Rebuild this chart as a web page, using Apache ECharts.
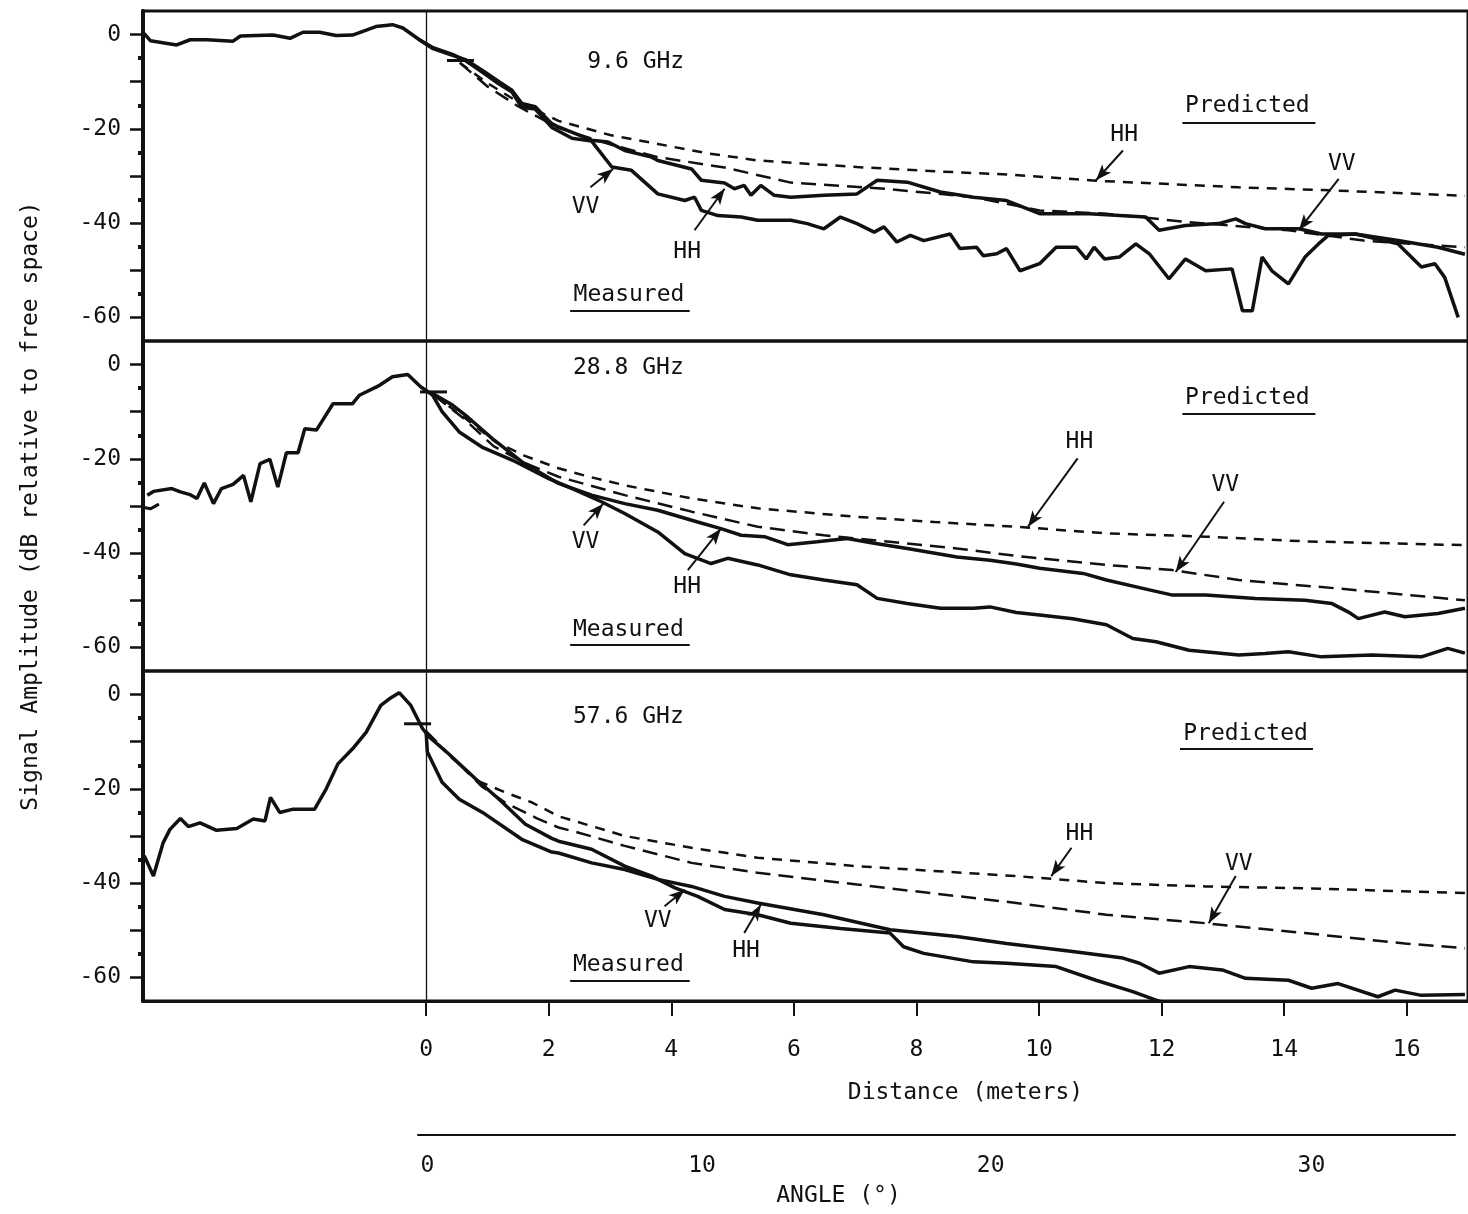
<!DOCTYPE html>
<html><head><meta charset="utf-8">
<script src="https://cdn.jsdelivr.net/npm/echarts@6/dist/echarts.min.js"></script>
<style>html,body{margin:0;padding:0;background:#fff}#c{width:1468px;height:1214px}</style>
</head><body><div id="c"></div>
<script>
// ---------- tick labels / categories ----------
const distTicks = [0, 2, 4, 6, 8, 10, 12, 14, 16];
const dbLabelTicks = [0, -20, -40, -60];
const dbMajorTicks = [0, -10, -20, -30, -40, -50, -60];
const dbMinorTicks = [-5, -15, -25, -35, -45, -55];
const angleTickLabels = ['0', '10', '20', '30'];
const angleTickDistances = [0, 4.46, 9.15, 14.36];
const panelTitles = ['9.6 GHz', '28.8 GHz', '57.6 GHz'];

// ---------- 9.6 GHz ----------
const p1MeasuredVV = [[-4.6,0.2],[-4.5,-1.3],[-4.07,-2.2],[-3.85,-1.1],[-3.58,-1.1],[-3.15,-1.4],[-3.03,-0.3],[-2.5,-0.1],[-2.22,-0.8],[-2.01,0.5],[-1.74,0.5],[-1.47,-0.2],[-1.2,-0.1],[-0.82,1.7],[-0.55,2.1],[-0.38,1.4],[-0.11,-1.1],[0.1,-2.7],[0.43,-4.2],[0.64,-5.5],[0.92,-8.0],[1.19,-10.5],[1.4,-12.2],[1.56,-15.4],[1.78,-15.8],[2.05,-19.7],[2.38,-22.0],[2.7,-22.6],[3.03,-28.1],[3.35,-28.8],[3.78,-33.8],[4.22,-35.2],[4.38,-34.5],[4.49,-37.3],[4.76,-38.4],[5.14,-38.7],[5.41,-39.4],[5.95,-39.4],[6.22,-40.1],[6.49,-41.2],[6.76,-38.7],[7.03,-40.1],[7.31,-41.9],[7.47,-40.8],[7.68,-44.0],[7.9,-42.6],[8.12,-43.7],[8.55,-42.3],[8.71,-45.4],[8.98,-45.1],[9.09,-46.9],[9.31,-46.5],[9.47,-45.4],[9.69,-50.1],[10.01,-48.6],[10.28,-45.1],[10.61,-45.1],[10.77,-47.6],[10.9,-45.1],[11.07,-47.6],[11.31,-47.2],[11.58,-44.4],[11.8,-46.5],[12.12,-51.8],[12.39,-47.6],[12.72,-50.1],[13.15,-49.7],[13.32,-58.6],[13.48,-58.6],[13.64,-47.2],[13.8,-50.1],[14.07,-52.9],[14.34,-47.2],[14.56,-44.4],[14.72,-42.6],[15.16,-42.3],[15.86,-44.4],[16.24,-49.3],[16.46,-48.6],[16.62,-51.5],[16.84,-60.0]];
const p1MeasuredHH = [[-0.11,-1.1],[0.1,-2.9],[0.43,-4.4],[0.64,-5.3],[0.92,-7.6],[1.19,-10.0],[1.4,-11.8],[1.56,-14.6],[1.78,-15.3],[2.05,-18.9],[2.16,-19.6],[2.7,-22.4],[2.97,-22.8],[3.24,-24.6],[3.68,-26.0],[3.78,-26.7],[4.33,-28.5],[4.49,-30.9],[4.87,-31.5],[5.03,-32.7],[5.19,-32.0],[5.3,-34.1],[5.46,-32.0],[5.68,-34.1],[5.95,-34.5],[6.49,-34.1],[7.03,-33.8],[7.36,-30.9],[7.85,-31.3],[8.39,-33.4],[8.93,-34.5],[9.47,-35.2],[10.01,-38.0],[10.82,-38.0],[11.74,-38.7],[11.96,-41.5],[12.39,-40.5],[12.93,-40.1],[13.21,-39.1],[13.37,-40.1],[13.69,-41.2],[14.24,-41.2],[14.61,-42.3],[15.16,-42.3],[15.86,-43.7],[16.51,-45.1],[16.95,-46.6]];
const p1PredictedHH = [[0.55,-6.0],[1.0,-10.3],[1.5,-14.3],[2.16,-18.3],[3.0,-21.3],[3.78,-23.2],[4.6,-25.2],[5.41,-26.7],[7.03,-28.1],[8.3,-29.0],[9.5,-29.7],[10.93,-31.0],[13.26,-32.4],[14.88,-33.1],[16.95,-34.2]];
const p1PredictedVV = [[0.55,-6.0],[1.0,-11.0],[1.5,-15.2],[2.16,-19.8],[3.0,-23.3],[3.78,-26.0],[4.87,-28.2],[5.95,-31.4],[7.57,-32.8],[8.93,-34.5],[10.01,-37.3],[11.1,-38.0],[12.45,-39.8],[14.07,-41.5],[15.3,-43.7],[16.95,-45.1]];

// ---------- 28.8 GHz ----------
const p2MeasuredVV = [[-4.55,-27.7],[-4.45,-26.9],[-4.15,-26.3],[-4.01,-27.0],[-3.85,-27.6],[-3.74,-28.4],[-3.62,-25.1],[-3.47,-29.5],[-3.34,-26.3],[-3.15,-25.4],[-2.98,-23.5],[-2.86,-29.1],[-2.71,-21.0],[-2.55,-20.1],[-2.42,-26.0],[-2.28,-18.7],[-2.09,-18.7],[-1.98,-13.6],[-1.79,-13.9],[-1.52,-8.3],[-1.2,-8.3],[-1.09,-6.5],[-0.76,-4.4],[-0.55,-2.6],[-0.3,-2.1],[-0.09,-4.7],[0.1,-6.4],[0.26,-10.0],[0.54,-14.3],[0.91,-17.5],[1.46,-20.6],[2.0,-24.2],[2.43,-26.6],[2.86,-29.1],[3.24,-31.6],[3.78,-35.5],[4.22,-40.1],[4.65,-42.2],[4.92,-41.1],[5.41,-42.5],[5.95,-44.6],[6.49,-45.7],[7.03,-46.7],[7.36,-49.6],[7.85,-50.7],[8.39,-51.7],[8.93,-51.7],[9.2,-51.4],[9.63,-52.6],[10.01,-53.1],[10.55,-53.9],[11.1,-55.2],[11.53,-58.1],[11.91,-58.8],[12.45,-60.6],[13.26,-61.6],[13.69,-61.3],[14.07,-60.9],[14.61,-62.0],[15.43,-61.6],[16.24,-62.0],[16.67,-60.2],[16.95,-61.2]];
const p2MeasuredHH = [[0.1,-6.1],[0.43,-8.6],[0.64,-10.7],[1.08,-15.7],[1.56,-20.6],[2.0,-24.0],[2.16,-25.2],[2.7,-27.7],[3.24,-29.5],[3.78,-30.9],[4.43,-33.4],[4.81,-34.8],[5.14,-36.2],[5.52,-36.5],[5.9,-38.2],[6.38,-37.6],[6.87,-36.9],[7.31,-37.9],[7.85,-39.0],[8.66,-40.8],[9.2,-41.5],[9.63,-42.3],[10.01,-43.2],[10.72,-44.3],[11.1,-45.7],[11.8,-47.8],[12.18,-48.9],[12.72,-48.9],[13.53,-49.6],[14.34,-50.0],[14.78,-50.7],[15.05,-52.5],[15.21,-53.9],[15.64,-52.5],[15.97,-53.5],[16.51,-52.8],[16.95,-51.7]];
const p2LeftStub = [[-4.6,-30.3],[-4.5,-30.6],[-4.36,-29.6]];
const p2PredictedHH = [[0.13,-6.5],[0.6,-11.0],[1.13,-16.4],[1.6,-19.3],[2.16,-22.0],[2.6,-23.6],[3.24,-25.6],[4.33,-28.4],[5.41,-30.5],[7.03,-32.3],[8.3,-33.4],[9.63,-34.4],[11.1,-35.8],[12.72,-36.5],[14.34,-37.5],[16.95,-38.3]];
const p2PredictedVV = [[0.13,-6.5],[0.6,-11.3],[1.1,-17.3],[1.6,-20.8],[2.16,-23.8],[3.24,-27.7],[4.33,-31.2],[5.41,-34.4],[6.49,-36.2],[7.57,-37.6],[8.66,-39.0],[9.63,-40.6],[11.1,-42.5],[12.18,-43.6],[13.26,-45.7],[14.88,-47.5],[16.95,-50.0]];

// ---------- 57.6 GHz ----------
const p3MeasuredVV = [[-4.6,-34.2],[-4.45,-38.5],[-4.29,-31.4],[-4.18,-28.6],[-4.01,-26.3],[-3.88,-28.0],[-3.69,-27.2],[-3.42,-28.8],[-3.09,-28.4],[-2.82,-26.4],[-2.63,-26.8],[-2.54,-21.8],[-2.39,-25.0],[-2.17,-24.3],[-1.82,-24.3],[-1.63,-20.0],[-1.44,-14.7],[-1.2,-11.5],[-0.98,-8.0],[-0.74,-2.3],[-0.6,-0.9],[-0.44,0.4],[-0.25,-2.3],[-0.06,-7.2],[0.05,-9.0],[0.37,-12.6],[0.81,-17.9],[1.19,-22.2],[1.62,-27.5],[2.05,-30.5],[2.16,-31.1],[2.7,-32.8],[3.24,-36.4],[3.68,-38.5],[4.06,-41.0],[4.43,-42.8],[4.87,-45.6],[5.41,-46.7],[5.95,-48.5],[6.76,-49.6],[7.57,-50.6],[7.79,-53.5],[8.12,-54.9],[8.93,-56.7],[9.47,-57.0],[10.28,-57.7],[10.93,-60.6],[11.53,-63.0],[11.91,-64.8],[12.2,-66.0]];
const p3MeasuredHH = [[0.0,-8.0],[0.02,-12.2],[0.26,-18.6],[0.54,-22.2],[0.92,-25.0],[1.56,-30.7],[2.05,-33.4],[2.16,-33.6],[2.7,-35.7],[3.24,-37.1],[3.78,-39.2],[4.33,-40.7],[4.87,-42.8],[5.41,-44.2],[6.49,-46.7],[7.57,-49.9],[8.66,-51.3],[9.47,-52.8],[10.55,-54.5],[11.37,-55.9],[11.64,-57.0],[11.96,-59.1],[12.45,-57.7],[12.99,-58.4],[13.37,-60.2],[14.07,-60.6],[14.45,-62.3],[14.88,-61.3],[15.53,-64.1],[15.81,-62.7],[16.24,-63.8],[16.95,-63.6]];
const p3PredictedHH = [[0.0,-7.8],[0.4,-13.2],[0.86,-18.4],[1.3,-20.8],[1.73,-22.9],[2.16,-25.8],[3.24,-30.0],[4.33,-32.5],[5.41,-34.6],[7.03,-36.4],[9.63,-38.5],[11.1,-40.0],[12.72,-40.7],[14.34,-41.1],[16.95,-42.1]];
const p3PredictedVV = [[0.0,-7.8],[0.4,-13.0],[0.91,-19.5],[1.3,-23.0],[1.8,-26.2],[2.16,-28.2],[2.49,-29.3],[3.24,-32.1],[4.33,-35.7],[5.41,-37.8],[7.03,-40.3],[9.63,-44.2],[11.1,-46.7],[12.72,-48.5],[14.34,-50.6],[15.97,-52.8],[16.95,-53.8]];

// short "+" reference marks near the origin of each panel
const originMarks = [[0.56,-5.5],[0.12,-5.8],[-0.14,-6.2]];

const panelData = [
  {mVV:p1MeasuredVV, mHH:p1MeasuredHH, pHH:p1PredictedHH, pVV:p1PredictedVV, stub:[]},
  {mVV:p2MeasuredVV, mHH:p2MeasuredHH, pHH:p2PredictedHH, pVV:p2PredictedVV, stub:p2LeftStub},
  {mVV:p3MeasuredVV, mHH:p3MeasuredHH, pHH:p3PredictedHH, pVV:p3PredictedVV, stub:[]}
];

// ---------- annotation placement (data coordinates) ----------
const annotations = [
  {texts:[[panelTitles[0],3.42,-5.8],['Predicted',13.4,-15.2],['HH',11.39,-21.4],['VV',14.94,-27.4],['VV',2.6,-36.6],['HH',4.26,-46.2],['Measured',3.31,-55.3]],
   arrows:[[11.37,-24.6,10.93,-30.9],[14.89,-30.6,14.24,-41.5],[2.68,-32.4,3.05,-28.5],[4.38,-41.5,4.87,-32.7]],
   underlines:[[12.34,14.51,-18.6],[2.35,4.3,-58.5]]},
  {texts:[[panelTitles[1],3.3,-0.7],['Predicted',13.4,-7.1],['HH',10.66,-16.5],['VV',13.04,-25.6],['VV',2.6,-37.6],['HH',4.26,-47.1],['Measured',3.3,-56.3]],
   arrows:[[10.63,-19.9,9.82,-34.4],[13.02,-29.1,12.23,-44.0],[2.57,-34.1,2.89,-29.5],[4.27,-43.6,4.81,-34.8]],
   underlines:[[12.34,14.51,-10.4],[2.35,4.3,-59.5]]},
  {texts:[[panelTitles[2],3.3,-4.8],['Predicted',13.37,-8.3],['HH',10.66,-29.6],['VV',13.26,-36.0],['VV',3.78,-48.1],['HH',5.22,-54.5],['Measured',3.3,-57.4]],
   arrows:[[10.53,-32.5,10.2,-38.5],[13.21,-38.5,12.77,-48.5],[3.89,-44.9,4.22,-41.4],[5.19,-50.6,5.46,-44.6]],
   underlines:[[12.3,14.47,-11.5],[2.35,4.3,-60.6]]}
];

// ---------- chart ----------
const FONT = 'DejaVu Sans Mono';
const INK = '#111';
const X_MIN = -4.62, X_MAX = 17.0, Y_MIN = -65, Y_MAX = 5;
const panelTops = [11, 341, 671];

const grids = panelTops.map(t => ({left:143, top:t, width:1331, height:330, show:true, borderColor:INK, borderWidth:3, backgroundColor:'transparent'}));
grids.push({left:418, top:1134, width:1037, height:1});

const txt = {fontFamily:FONT, fontSize:23, color:INK};

const xAxes = [0,1,2].map(i => {
  const base = {type:'value', gridIndex:i, min:X_MIN, max:X_MAX, splitLine:{show:false}};
  if (i < 2) return Object.assign(base, {show:false});
  return Object.assign(base, {
    position:'bottom',
    axisLine:{show:true, onZero:false, lineStyle:{color:INK, width:3}},
    axisTick:{show:true, customValues:distTicks, length:15, lineStyle:{color:INK, width:2}},
    axisLabel:Object.assign({customValues:distTicks, margin:38}, txt),
    name:'Distance (meters)', nameLocation:'middle', nameGap:81,
    nameTextStyle:Object.assign({padding:[0,0,0,320]}, txt)
  });
});
xAxes.push({
  type:'value', gridIndex:3, min:-0.153, max:16.692, splitLine:{show:false}, position:'bottom',
  axisLine:{show:true, onZero:false, lineStyle:{color:INK, width:2}},
  axisTick:{show:false},
  axisLabel:Object.assign({customValues:angleTickDistances, margin:20,
    formatter:v => {let b=0; angleTickDistances.forEach((d,k)=>{ if (Math.abs(d-v) < Math.abs(angleTickDistances[b]-v)) b=k; }); return angleTickLabels[b];}}, txt),
  name:'ANGLE (°)', nameLocation:'middle', nameGap:50,
  nameTextStyle:Object.assign({padding:[0,196,0,0]}, txt)
});

const yAxes = [];
[0,1,2].forEach(i => {
  yAxes.push({
    type:'value', gridIndex:i, min:Y_MIN, max:Y_MAX, interval:5, splitLine:{show:false},
    axisLine:{show:true, onZero:false, lineStyle:{color:INK, width:4}},
    axisTick:{show:true, customValues:dbMajorTicks, length:13, lineStyle:{color:INK, width:2.5}},
    axisLabel:Object.assign({customValues:dbLabelTicks, margin:22}, txt),
    name: i === 1 ? 'Signal Amplitude (dB relative to free space)' : '',
    nameLocation:'middle', nameRotate:90, nameGap:100, nameTextStyle:txt
  });
  yAxes.push({
    type:'value', gridIndex:i, min:Y_MIN, max:Y_MAX, interval:5, position:'left', splitLine:{show:false},
    axisLine:{show:false, onZero:false},
    axisTick:{show:true, customValues:dbMinorTicks, length:5, lineStyle:{color:INK, width:4}},
    axisLabel:{show:false}
  });
});
yAxes.push({type:'value', gridIndex:3, min:0, max:1, show:false});

const series = [];
panelData.forEach((p, i) => {
  const ax = {xAxisIndex:i, yAxisIndex:2*i};
  series.push(Object.assign({type:'line', name:'Measured VV', data:p.mVV, symbol:'none', lineStyle:{color:INK, width:3.5}, z:3}, ax));
  series.push(Object.assign({type:'line', name:'Measured HH', data:p.mHH, symbol:'none', lineStyle:{color:INK, width:3.5}, z:3,
    markLine:{silent:true, symbol:'none', label:{show:false}, lineStyle:{color:INK, width:1.3, type:'solid'}, emphasis:{disabled:true}, data:[{xAxis:0}]}}, ax));
  if (p.stub.length) series.push(Object.assign({type:'line', name:'Measured HH start', data:p.stub, symbol:'none', lineStyle:{color:INK, width:3}, z:3}, ax));
  series.push(Object.assign({type:'line', name:'Predicted HH', data:p.pHH, symbol:'none', lineStyle:{color:INK, width:2.5, type:[10,8]}, z:2}, ax));
  series.push(Object.assign({type:'line', name:'Predicted VV', data:p.pVV, symbol:'none', lineStyle:{color:INK, width:2.5, type:[15,8]}, z:2}, ax));
  series.push(Object.assign({type:'scatter', name:'origin mark', data:[originMarks[i]], symbol:'rect', symbolSize:[27,3], itemStyle:{color:INK, opacity:1}, silent:true}, ax));
  const a = annotations[i];
  const lines = a.arrows.map(r => [{coord:[r[0],r[1]]},{coord:[r[2],r[3]]}])
    .concat(a.underlines.map(u => [{coord:[u[0],u[2]], symbol:'none'},{coord:[u[1],u[2]], symbol:'none'}]));
  series.push(Object.assign({
    type:'scatter', name:'notes', silent:true, symbolSize:0.01, itemStyle:{color:INK, opacity:1},
    data:a.texts.map(t => ({name:t[0], value:[t[1], t[2]]})),
    label:Object.assign({show:true, position:'inside', formatter:'{b}', textBorderWidth:0, opacity:1}, txt),
    markLine:{silent:true, symbol:['none','arrow'], symbolSize:[9,16], label:{show:false},
      lineStyle:{color:INK, width:2, type:'solid'}, data:lines},
    z:5
  }, ax));
});

const chart = echarts.init(document.getElementById('c'), null, {renderer:'canvas'});
chart.setOption({
  animation:false,
  backgroundColor:'#fff',
  grid:grids,
  xAxis:xAxes,
  yAxis:yAxes,
  series:series
});
</script>
</body></html>
